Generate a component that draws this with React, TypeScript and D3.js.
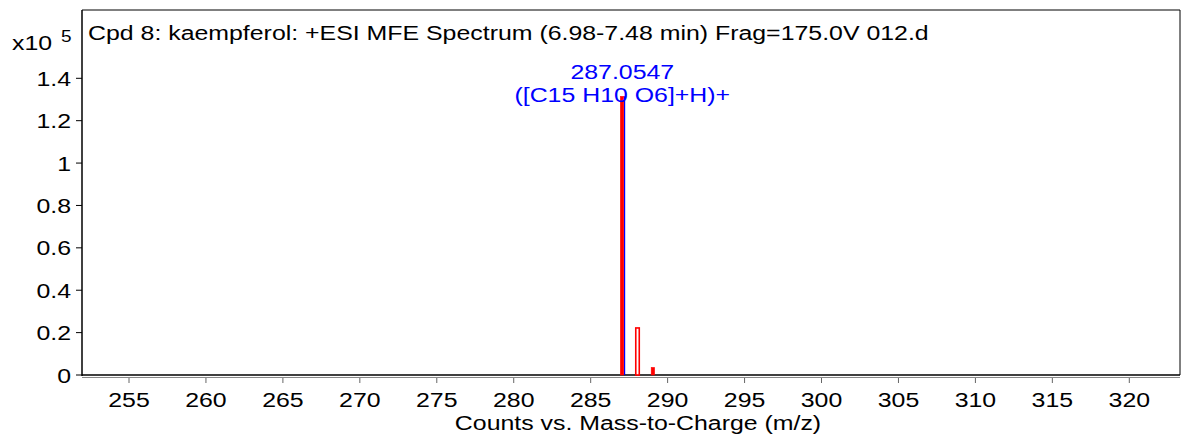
import React from "react";
import * as d3 from "d3";

const title = "Cpd 8: kaempferol: +ESI MFE Spectrum (6.98-7.48 min) Frag=175.0V 012.d";
const xTicks = [255, 260, 265, 270, 275, 280, 285, 290, 295, 300, 305, 310, 315, 320];
const yTicks = [0, 0.2, 0.4, 0.6, 0.8, 1, 1.2, 1.4];
const yTickLabels = ["0", "0.2", "0.4", "0.6", "0.8", "1", "1.2", "1.4"];
const peakMz = [287.0547, 288.06, 289.06];
const peakIntensity = [1.315, 0.222, 0.036];
const peakFilled = [true, false, true];
const labelMz = 287.0547;
const labelLines = ["287.0547", "([C15 H10 O6]+H)+"];

const W = 1183, H = 436;
const left = 82, right = 1180, top = 10, bottom = 375;
const SX = 1.185;

function T(props: { x: number; y: number; anchor?: string; size?: number; fill?: string; children: React.ReactNode; dy?: string }) {
  return (
    <text transform={`translate(${props.x},${props.y}) scale(${SX},1)`} textAnchor={props.anchor || "start"}
      fontSize={props.size || 21} fill={props.fill || "#000"} dy={props.dy}>{props.children}</text>
  );
}

export default function App() {
  const x = d3.scaleLinear().domain([255, 320]).range([129, 1129.3]);
  const y = d3.scaleLinear().domain([0, 1.4]).range([bottom, 78.3]);
  const font = "Liberation Sans, Arial, sans-serif";
  return (
    <svg width={W} height={H} style={{ position: "absolute", left: 0, top: 0 }} fontFamily={font}>
      <rect x={0} y={0} width={W} height={H} fill="white" />
      {/* frame */}
      <line x1={left} y1={top} x2={right} y2={top} stroke="#000" strokeWidth={1} />
      <line x1={right} y1={top} x2={right} y2={bottom} stroke="#000" strokeWidth={1} />
      <line x1={left} y1={top} x2={left} y2={bottom + 1} stroke="#000" strokeWidth={1.5} />
      <line x1={left} y1={bottom} x2={right} y2={bottom} stroke="#000" strokeWidth={1.5} />
      <line x1={left} y1={bottom + 2.5} x2={right} y2={bottom + 2.5} stroke="#888" strokeWidth={1} />
      {/* y ticks */}
      {yTicks.map((t, i) => (
        <g key={"y" + i}>
          <line x1={left - 6} x2={left} y1={y(t)} y2={y(t)} stroke="#000" />
          <T x={left - 11} y={y(t) + 7.5} anchor="end">{yTickLabels[i]}</T>
        </g>
      ))}
      <T x={12} y={49.5}>x10</T>
      <T x={61} y={42} size={16}>5</T>
      {/* x ticks */}
      {xTicks.map((t) => (
        <g key={"x" + t}>
          <line x1={x(t)} x2={x(t)} y1={bottom + 3} y2={bottom + 8} stroke="#666" />
          <T x={x(t)} y={406.5} anchor="middle">{t}</T>
        </g>
      ))}
      <T x={638} y={430} anchor="middle">Counts vs. Mass-to-Charge (m/z)</T>
      {/* title */}
      <T x={88} y={40}>{title}</T>
      {/* peaks */}
      {peakMz.map((m, i) => (
        <rect key={"p" + i}
          x={x(m) - 2} y={y(peakIntensity[i])} width={peakFilled[i] ? 3.5 : 3.5}
          height={bottom - y(peakIntensity[i])}
          fill={peakFilled[i] ? "#ff0000" : "white"}
          stroke="#ff0000" strokeWidth={peakFilled[i] ? 0.5 : 1.6} />
      ))}
      <line x1={x(labelMz) + 2.3} x2={x(labelMz) + 2.3} y1={y(peakIntensity[0])} y2={bottom} stroke="#0000ff" strokeWidth={1.2} />
      <T x={x(labelMz)} y={79} anchor="middle" fill="#0000ff">{labelLines[0]}</T>
      <T x={x(labelMz)} y={102} anchor="middle" fill="#0000ff">{labelLines[1]}</T>
    </svg>
  );
}
